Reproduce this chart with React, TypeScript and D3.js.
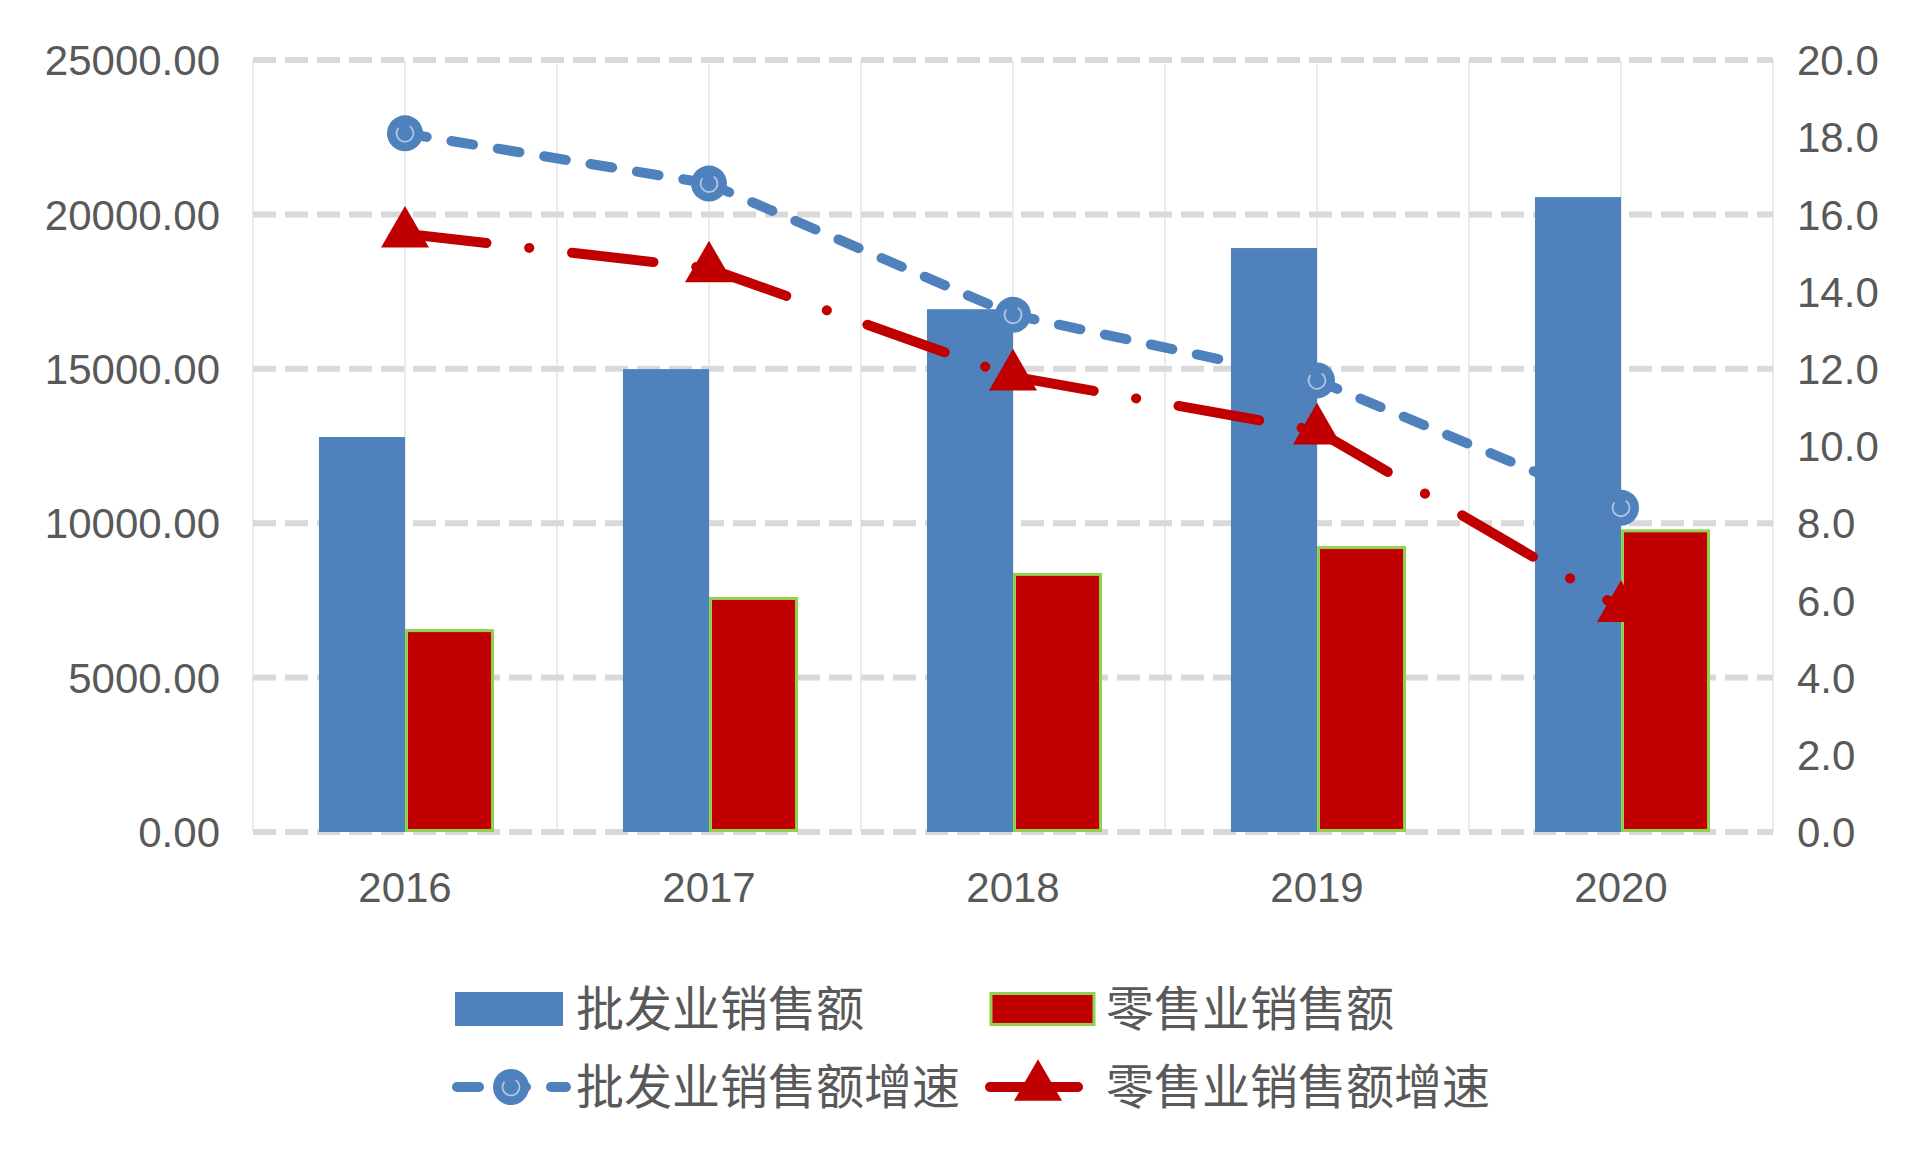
import { useEffect, useRef } from 'react';
import * as d3 from 'd3';

// values
const years = ['2016', '2017', '2018', '2019', '2020'];
const wholesaleSales = [12790, 14990, 16930, 18910, 20560];
const retailSales = [6570, 7610, 8390, 9260, 9800];
const wholesaleGrowth = [18.1, 16.8, 13.4, 11.7, 8.4];
const retailGrowth = [15.5, 14.6, 11.8, 10.4, 5.8];
const leftTicks = [0, 5000, 10000, 15000, 20000, 25000];
const rightTicks = [0, 2, 4, 6, 8, 10, 12, 14, 16, 18, 20];

const seriesNames = ['批发业销售额', '零售业销售额', '批发业销售额增速', '零售业销售额增速'];

const BLUE = '#4f81bd';
const RED = '#c00000';
const GREEN = '#92d050';
const TEXT = '#595959';

export default function App() {
  const svgRef = useRef<SVGSVGElement>(null);

  useEffect(() => {
    if (!svgRef.current) return;
    const width = 1920;
    const height = 1152;
    const margin = { top: 60, right: 147, bottom: 320, left: 253 };

    const svg = d3.select(svgRef.current).attr('width', width).attr('height', height);
    svg.selectAll('*').remove();

    const x = d3
      .scaleBand<string>()
      .domain(years)
      .range([margin.left, width - margin.right])
      .padding(0);
    const groupWidth = x.bandwidth() * 0.566;
    const x1 = d3.scaleBand<string>().domain(['w', 'r']).range([0, groupWidth]).padding(0);
    const yLeft = d3.scaleLinear().domain([0, 25000]).range([height - margin.bottom, margin.top]);
    const yRight = d3.scaleLinear().domain([0, 20]).range([height - margin.bottom, margin.top]);

    const top = margin.top;
    const bottom = height - margin.bottom;

    // vertical grid: band edges and centres
    const vLines: number[] = [];
    years.forEach((yr) => {
      vLines.push(x(yr)!);
      vLines.push(x(yr)! + x.bandwidth() / 2);
    });
    vLines.push(width - margin.right);
    svg
      .append('g')
      .selectAll('line')
      .data(vLines)
      .join('line')
      .attr('x1', (d) => d)
      .attr('x2', (d) => d)
      .attr('y1', top)
      .attr('y2', bottom)
      .attr('stroke', '#ebebeb')
      .attr('stroke-width', 2);

    // horizontal dashed grid
    svg
      .append('g')
      .selectAll('line')
      .data(leftTicks)
      .join('line')
      .attr('x1', margin.left)
      .attr('x2', width - margin.right)
      .attr('y1', (d) => yLeft(d))
      .attr('y2', (d) => yLeft(d))
      .attr('stroke', '#d9d9d9')
      .attr('stroke-width', 6)
      .attr('stroke-dasharray', '23 9');

    const axisFont = '"Liberation Sans", Arial, sans-serif';

    // left axis labels
    svg
      .append('g')
      .selectAll('text')
      .data(leftTicks)
      .join('text')
      .attr('x', 220)
      .attr('y', (d) => yLeft(d))
      .attr('dy', '0.36em')
      .attr('text-anchor', 'end')
      .style('font-family', axisFont)
      .style('font-size', '42px')
      .style('fill', TEXT)
      .text((d) => d.toFixed(2));

    // right axis labels
    svg
      .append('g')
      .selectAll('text')
      .data(rightTicks)
      .join('text')
      .attr('x', 1797)
      .attr('y', (d) => yRight(d))
      .attr('dy', '0.36em')
      .attr('text-anchor', 'start')
      .style('font-family', axisFont)
      .style('font-size', '42px')
      .style('fill', TEXT)
      .text((d) => d.toFixed(1));

    // category labels
    svg
      .append('g')
      .selectAll('text')
      .data(years)
      .join('text')
      .attr('x', (d) => x(d)! + x.bandwidth() / 2)
      .attr('y', 887)
      .attr('dy', '0.36em')
      .attr('text-anchor', 'middle')
      .style('font-family', axisFont)
      .style('font-size', '42px')
      .style('fill', TEXT)
      .text((d) => d);

    const groupStart = (yr: string) => x(yr)! + (x.bandwidth() - groupWidth) / 2;

    // bars
    svg
      .append('g')
      .selectAll('rect')
      .data(years)
      .join('rect')
      .attr('x', (d) => groupStart(d) + x1('w')!)
      .attr('y', (_, i) => yLeft(wholesaleSales[i]))
      .attr('width', x1.bandwidth())
      .attr('height', (_, i) => bottom - yLeft(wholesaleSales[i]))
      .attr('fill', BLUE);

    svg
      .append('g')
      .selectAll('rect')
      .data(years)
      .join('rect')
      .attr('x', (d) => groupStart(d) + x1('r')! + 1.5)
      .attr('y', (_, i) => yLeft(retailSales[i]) + 1.5)
      .attr('width', x1.bandwidth())
      .attr('height', (_, i) => bottom - yLeft(retailSales[i]) - 3)
      .attr('fill', RED)
      .attr('stroke', GREEN)
      .attr('stroke-width', 3);

    const cx = (yr: string) => x(yr)! + x.bandwidth() / 2;

    // line segments: the dash pattern restarts at every point
    const segLine = d3
      .line<[number, number]>()
      .x((d) => d[0])
      .y((d) => d[1]);
    const segments = (values: number[]) =>
      d3.pairs(values.map((v, i) => [cx(years[i]), yRight(v)] as [number, number]));

    svg
      .append('g')
      .selectAll('path')
      .data(segments(wholesaleGrowth))
      .join('path')
      .attr('d', (d) => segLine(d))
      .attr('fill', 'none')
      .attr('stroke', BLUE)
      .attr('stroke-width', 10)
      .attr('stroke-linecap', 'round')
      .attr('stroke-dasharray', '22 25');

    const drawCircle = (g: d3.Selection<SVGGElement, unknown, null, undefined>, px: number, py: number, r: number) => {
      g.append('circle').attr('cx', px).attr('cy', py).attr('r', r).attr('fill', BLUE);
      g.append('path')
        .attr(
          'd',
          d3.arc()({ innerRadius: r * 0.42, outerRadius: r * 0.52, startAngle: 0.6, endAngle: 2 * Math.PI - 0.9 }) || ''
        )
        .attr('transform', `translate(${px},${py})`)
        .attr('fill', '#ffffff')
        .attr('opacity', 0.55);
    };

    const markers = svg.append('g');
    wholesaleGrowth.forEach((v, i) => drawCircle(markers, cx(years[i]), yRight(v), 18));

    svg
      .append('g')
      .selectAll('path')
      .data(segments(retailGrowth))
      .join('path')
      .attr('d', (d) => segLine(d))
      .attr('fill', 'none')
      .attr('stroke', RED)
      .attr('stroke-width', 10)
      .attr('stroke-linecap', 'round')
      .attr('stroke-dasharray', '82 43 0.1 43');

    const tri = d3.symbol().type(d3.symbolTriangle).size(1000);
    svg
      .append('g')
      .selectAll('path')
      .data(retailGrowth)
      .join('path')
      .attr('d', tri)
      .attr('transform', (d, i) => `translate(${cx(years[i])},${yRight(d)})`)
      .attr('fill', RED);

    // legend
    const legend = svg.append('g');
    const row1 = 1009;
    const row2 = 1087;
    const legendText = (tx: number, ty: number, label: string) =>
      legend
        .append('text')
        .attr('x', tx)
        .attr('y', ty)
        .attr('dy', '0.36em')
        .style('font-family', '"Noto Sans CJK SC", sans-serif')
        .style('font-size', '48px')
        .style('fill', TEXT)
        .text(label);

    legend.append('rect').attr('x', 455).attr('y', row1 - 17).attr('width', 108).attr('height', 34).attr('fill', BLUE);
    legendText(576, row1, seriesNames[0]);

    legend
      .append('rect')
      .attr('x', 991)
      .attr('y', row1 - 15.5)
      .attr('width', 103)
      .attr('height', 31)
      .attr('fill', RED)
      .attr('stroke', GREEN)
      .attr('stroke-width', 3);
    legendText(1106, row1, seriesNames[1]);

    legend
      .append('line')
      .attr('x1', 457)
      .attr('x2', 566)
      .attr('y1', row2)
      .attr('y2', row2)
      .attr('stroke', BLUE)
      .attr('stroke-width', 10)
      .attr('stroke-linecap', 'round')
      .attr('stroke-dasharray', '22 25');
    drawCircle(legend, 511, row2, 18);
    legendText(576, row2, seriesNames[2]);

    legend
      .append('line')
      .attr('x1', 990)
      .attr('x2', 1078)
      .attr('y1', row2)
      .attr('y2', row2)
      .attr('stroke', RED)
      .attr('stroke-width', 10)
      .attr('stroke-linecap', 'round');
    legend
      .append('path')
      .attr('d', tri)
      .attr('transform', `translate(1038,${row2})`)
      .attr('fill', RED);
    legendText(1106, row2, seriesNames[3]);
  }, []);

  return <svg ref={svgRef} style={{ position: 'absolute', left: 0, top: 0, background: '#ffffff' }}></svg>;
}
